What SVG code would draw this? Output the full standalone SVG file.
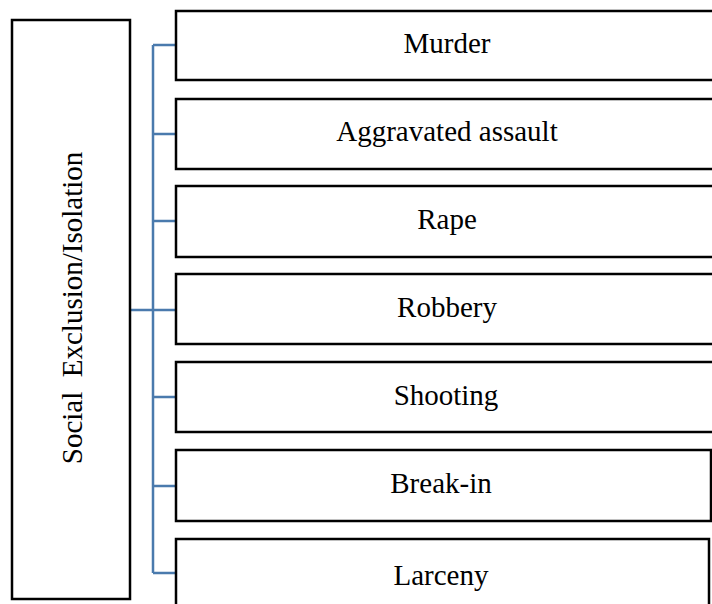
<svg xmlns="http://www.w3.org/2000/svg" width="712" height="604" viewBox="0 0 712 604">
<style>
.box{fill:#fff;stroke:#000;stroke-width:2.5}
.lbl{font-family:"Liberation Serif","Times New Roman",serif;font-size:29px;fill:#000;text-anchor:middle}
.conn{fill:none;stroke:#4a7aad;stroke-width:2.5}
</style>
<rect width="712" height="604" fill="#fff"/>
<g id="connectors">
<path class="conn" d="M153,45 V573 M153,45 H176 M153,134 H176 M153,221 H176 M130,310 H176 M153,397 H176 M153,486 H176 M153,573 H176"/>
</g>
<g id="social-exclusion">
<rect class="box" x="12" y="20" width="118" height="579"/>
<text class="lbl" transform="translate(82,308) rotate(-90)" xml:space="preserve">Social  Exclusion/Isolation</text>
</g>
<g id="murder">
<rect class="box" x="176" y="11" width="544" height="69"/>
<text class="lbl" x="447" y="53">Murder</text>
</g>
<g id="aggravated-assault">
<rect class="box" x="176" y="99" width="544" height="70"/>
<text class="lbl" x="447" y="141">Aggravated assault</text>
</g>
<g id="rape">
<rect class="box" x="176" y="186" width="544" height="71"/>
<text class="lbl" x="447" y="229">Rape</text>
</g>
<g id="robbery">
<rect class="box" x="176" y="274" width="544" height="70"/>
<text class="lbl" x="447" y="317">Robbery</text>
</g>
<g id="shooting">
<rect class="box" x="176" y="362" width="544" height="70"/>
<text class="lbl" x="446" y="405">Shooting</text>
</g>
<g id="break-in">
<rect class="box" x="176" y="450" width="535" height="71"/>
<text class="lbl" x="441" y="493">Break-in</text>
</g>
<g id="larceny">
<rect class="box" x="176" y="539" width="533" height="80"/>
<text class="lbl" x="441" y="585">Larceny</text>
</g>
</svg>
